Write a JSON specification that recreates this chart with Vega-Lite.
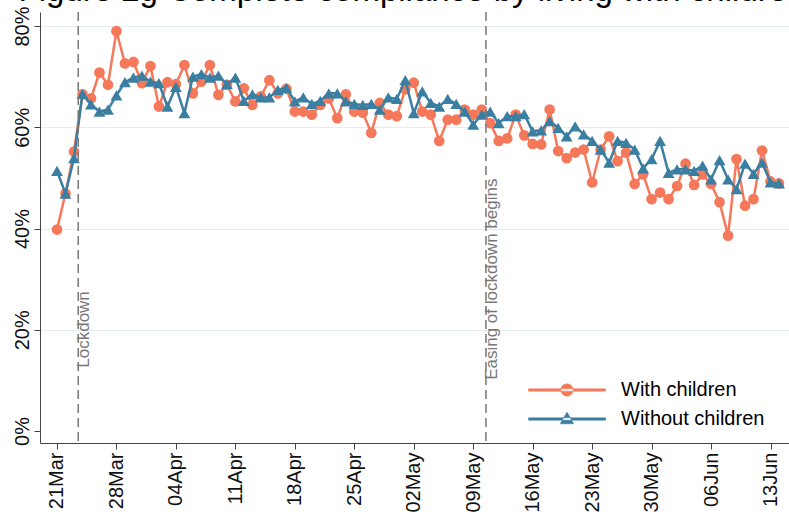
{
  "$schema": "https://vega.github.io/schema/vega-lite/v6.json",
  "width": 756,
  "height": 431,
  "autosize": {"type": "none"},
  "padding": {"left": 40, "top": 12, "right": 0, "bottom": 78},
  "background": "white",
  "title": {
    "text": "Figure 2g Complete compliance by living with children",
    "font": "Liberation Sans",
    "fontSize": 33,
    "fontWeight": "normal",
    "color": "#000000",
    "anchor": "middle",
    "baseline": "alphabetic",
    "offset": -28,
    "dx": -6
  },
  "config": {
    "view": {"stroke": null},
    "font": "Liberation Sans",
    "axis": {
      "labelFont": "Liberation Sans",
      "labelFontSize": 20,
      "labelColor": "#111111",
      "domainColor": "#444444",
      "tickColor": "#444444",
      "tickSize": 6,
      "domainWidth": 1,
      "tickWidth": 1
    }
  },
  "data": {
    "values": [
      {"date": "2020-03-21", "group": "With children", "pct": 39.8},
      {"date": "2020-03-22", "group": "With children", "pct": 46.9},
      {"date": "2020-03-23", "group": "With children", "pct": 55.2},
      {"date": "2020-03-24", "group": "With children", "pct": 66.5},
      {"date": "2020-03-25", "group": "With children", "pct": 65.7},
      {"date": "2020-03-26", "group": "With children", "pct": 70.8},
      {"date": "2020-03-27", "group": "With children", "pct": 68.4},
      {"date": "2020-03-28", "group": "With children", "pct": 79.0},
      {"date": "2020-03-29", "group": "With children", "pct": 72.6},
      {"date": "2020-03-30", "group": "With children", "pct": 72.9},
      {"date": "2020-03-31", "group": "With children", "pct": 68.7},
      {"date": "2020-04-01", "group": "With children", "pct": 72.1},
      {"date": "2020-04-02", "group": "With children", "pct": 64.1},
      {"date": "2020-04-03", "group": "With children", "pct": 68.9},
      {"date": "2020-04-04", "group": "With children", "pct": 68.5},
      {"date": "2020-04-05", "group": "With children", "pct": 72.3},
      {"date": "2020-04-06", "group": "With children", "pct": 66.7},
      {"date": "2020-04-07", "group": "With children", "pct": 69.0},
      {"date": "2020-04-08", "group": "With children", "pct": 72.3},
      {"date": "2020-04-09", "group": "With children", "pct": 66.4},
      {"date": "2020-04-10", "group": "With children", "pct": 68.4},
      {"date": "2020-04-11", "group": "With children", "pct": 65.1},
      {"date": "2020-04-12", "group": "With children", "pct": 67.7},
      {"date": "2020-04-13", "group": "With children", "pct": 64.4},
      {"date": "2020-04-14", "group": "With children", "pct": 66.1},
      {"date": "2020-04-15", "group": "With children", "pct": 69.3},
      {"date": "2020-04-16", "group": "With children", "pct": 66.7},
      {"date": "2020-04-17", "group": "With children", "pct": 67.6},
      {"date": "2020-04-18", "group": "With children", "pct": 63.1},
      {"date": "2020-04-19", "group": "With children", "pct": 63.1},
      {"date": "2020-04-20", "group": "With children", "pct": 62.5},
      {"date": "2020-04-21", "group": "With children", "pct": 64.4},
      {"date": "2020-04-22", "group": "With children", "pct": 65.7},
      {"date": "2020-04-23", "group": "With children", "pct": 61.8},
      {"date": "2020-04-24", "group": "With children", "pct": 66.5},
      {"date": "2020-04-25", "group": "With children", "pct": 63.1},
      {"date": "2020-04-26", "group": "With children", "pct": 62.9},
      {"date": "2020-04-27", "group": "With children", "pct": 58.9},
      {"date": "2020-04-28", "group": "With children", "pct": 64.8},
      {"date": "2020-04-29", "group": "With children", "pct": 62.5},
      {"date": "2020-04-30", "group": "With children", "pct": 62.2},
      {"date": "2020-05-01", "group": "With children", "pct": 67.5},
      {"date": "2020-05-02", "group": "With children", "pct": 68.8},
      {"date": "2020-05-03", "group": "With children", "pct": 63.1},
      {"date": "2020-05-04", "group": "With children", "pct": 62.5},
      {"date": "2020-05-05", "group": "With children", "pct": 57.3},
      {"date": "2020-05-06", "group": "With children", "pct": 61.5},
      {"date": "2020-05-07", "group": "With children", "pct": 61.5},
      {"date": "2020-05-08", "group": "With children", "pct": 63.5},
      {"date": "2020-05-09", "group": "With children", "pct": 62.5},
      {"date": "2020-05-10", "group": "With children", "pct": 63.5},
      {"date": "2020-05-11", "group": "With children", "pct": 60.8},
      {"date": "2020-05-12", "group": "With children", "pct": 57.3},
      {"date": "2020-05-13", "group": "With children", "pct": 57.8},
      {"date": "2020-05-14", "group": "With children", "pct": 62.5},
      {"date": "2020-05-15", "group": "With children", "pct": 58.4},
      {"date": "2020-05-16", "group": "With children", "pct": 56.7},
      {"date": "2020-05-17", "group": "With children", "pct": 56.6},
      {"date": "2020-05-18", "group": "With children", "pct": 63.5},
      {"date": "2020-05-19", "group": "With children", "pct": 55.3},
      {"date": "2020-05-20", "group": "With children", "pct": 53.9},
      {"date": "2020-05-21", "group": "With children", "pct": 55.0},
      {"date": "2020-05-22", "group": "With children", "pct": 55.6},
      {"date": "2020-05-23", "group": "With children", "pct": 49.1},
      {"date": "2020-05-24", "group": "With children", "pct": 55.6},
      {"date": "2020-05-25", "group": "With children", "pct": 58.2},
      {"date": "2020-05-26", "group": "With children", "pct": 53.3},
      {"date": "2020-05-27", "group": "With children", "pct": 55.0},
      {"date": "2020-05-28", "group": "With children", "pct": 48.8},
      {"date": "2020-05-29", "group": "With children", "pct": 50.7},
      {"date": "2020-05-30", "group": "With children", "pct": 45.8},
      {"date": "2020-05-31", "group": "With children", "pct": 47.1},
      {"date": "2020-06-01", "group": "With children", "pct": 45.8},
      {"date": "2020-06-02", "group": "With children", "pct": 48.4},
      {"date": "2020-06-03", "group": "With children", "pct": 52.8},
      {"date": "2020-06-04", "group": "With children", "pct": 48.6},
      {"date": "2020-06-05", "group": "With children", "pct": 50.7},
      {"date": "2020-06-06", "group": "With children", "pct": 48.8},
      {"date": "2020-06-07", "group": "With children", "pct": 45.2},
      {"date": "2020-06-08", "group": "With children", "pct": 38.6},
      {"date": "2020-06-09", "group": "With children", "pct": 53.7},
      {"date": "2020-06-10", "group": "With children", "pct": 44.5},
      {"date": "2020-06-11", "group": "With children", "pct": 45.8},
      {"date": "2020-06-12", "group": "With children", "pct": 55.4},
      {"date": "2020-06-13", "group": "With children", "pct": 49.3},
      {"date": "2020-06-14", "group": "With children", "pct": 48.9},
      {"date": "2020-03-21", "group": "Without children", "pct": 51.4},
      {"date": "2020-03-22", "group": "Without children", "pct": 46.9},
      {"date": "2020-03-23", "group": "Without children", "pct": 53.9},
      {"date": "2020-03-24", "group": "Without children", "pct": 66.6},
      {"date": "2020-03-25", "group": "Without children", "pct": 64.5},
      {"date": "2020-03-26", "group": "Without children", "pct": 63.1},
      {"date": "2020-03-27", "group": "Without children", "pct": 63.5},
      {"date": "2020-03-28", "group": "Without children", "pct": 66.3},
      {"date": "2020-03-29", "group": "Without children", "pct": 68.9},
      {"date": "2020-03-30", "group": "Without children", "pct": 69.8},
      {"date": "2020-03-31", "group": "Without children", "pct": 70.2},
      {"date": "2020-04-01", "group": "Without children", "pct": 69.0},
      {"date": "2020-04-02", "group": "Without children", "pct": 68.7},
      {"date": "2020-04-03", "group": "Without children", "pct": 64.1},
      {"date": "2020-04-04", "group": "Without children", "pct": 68.0},
      {"date": "2020-04-05", "group": "Without children", "pct": 62.8},
      {"date": "2020-04-06", "group": "Without children", "pct": 70.0},
      {"date": "2020-04-07", "group": "Without children", "pct": 70.5},
      {"date": "2020-04-08", "group": "Without children", "pct": 69.8},
      {"date": "2020-04-09", "group": "Without children", "pct": 70.2},
      {"date": "2020-04-10", "group": "Without children", "pct": 68.5},
      {"date": "2020-04-11", "group": "Without children", "pct": 69.8},
      {"date": "2020-04-12", "group": "Without children", "pct": 65.2},
      {"date": "2020-04-13", "group": "Without children", "pct": 66.5},
      {"date": "2020-04-14", "group": "Without children", "pct": 65.9},
      {"date": "2020-04-15", "group": "Without children", "pct": 65.9},
      {"date": "2020-04-16", "group": "Without children", "pct": 67.4},
      {"date": "2020-04-17", "group": "Without children", "pct": 67.8},
      {"date": "2020-04-18", "group": "Without children", "pct": 65.1},
      {"date": "2020-04-19", "group": "Without children", "pct": 65.9},
      {"date": "2020-04-20", "group": "Without children", "pct": 64.6},
      {"date": "2020-04-21", "group": "Without children", "pct": 65.2},
      {"date": "2020-04-22", "group": "Without children", "pct": 66.7},
      {"date": "2020-04-23", "group": "Without children", "pct": 66.7},
      {"date": "2020-04-24", "group": "Without children", "pct": 65.1},
      {"date": "2020-04-25", "group": "Without children", "pct": 64.6},
      {"date": "2020-04-26", "group": "Without children", "pct": 64.4},
      {"date": "2020-04-27", "group": "Without children", "pct": 64.6},
      {"date": "2020-04-28", "group": "Without children", "pct": 63.5},
      {"date": "2020-04-29", "group": "Without children", "pct": 65.9},
      {"date": "2020-04-30", "group": "Without children", "pct": 65.6},
      {"date": "2020-05-01", "group": "Without children", "pct": 69.3},
      {"date": "2020-05-02", "group": "Without children", "pct": 62.8},
      {"date": "2020-05-03", "group": "Without children", "pct": 67.1},
      {"date": "2020-05-04", "group": "Without children", "pct": 64.8},
      {"date": "2020-05-05", "group": "Without children", "pct": 64.1},
      {"date": "2020-05-06", "group": "Without children", "pct": 65.6},
      {"date": "2020-05-07", "group": "Without children", "pct": 64.6},
      {"date": "2020-05-08", "group": "Without children", "pct": 63.1},
      {"date": "2020-05-09", "group": "Without children", "pct": 60.5},
      {"date": "2020-05-10", "group": "Without children", "pct": 62.5},
      {"date": "2020-05-11", "group": "Without children", "pct": 63.1},
      {"date": "2020-05-12", "group": "Without children", "pct": 60.8},
      {"date": "2020-05-13", "group": "Without children", "pct": 62.2},
      {"date": "2020-05-14", "group": "Without children", "pct": 62.2},
      {"date": "2020-05-15", "group": "Without children", "pct": 62.6},
      {"date": "2020-05-16", "group": "Without children", "pct": 59.2},
      {"date": "2020-05-17", "group": "Without children", "pct": 59.4},
      {"date": "2020-05-18", "group": "Without children", "pct": 61.2},
      {"date": "2020-05-19", "group": "Without children", "pct": 59.9},
      {"date": "2020-05-20", "group": "Without children", "pct": 58.2},
      {"date": "2020-05-21", "group": "Without children", "pct": 60.2},
      {"date": "2020-05-22", "group": "Without children", "pct": 58.6},
      {"date": "2020-05-23", "group": "Without children", "pct": 57.3},
      {"date": "2020-05-24", "group": "Without children", "pct": 55.6},
      {"date": "2020-05-25", "group": "Without children", "pct": 53.0},
      {"date": "2020-05-26", "group": "Without children", "pct": 57.3},
      {"date": "2020-05-27", "group": "Without children", "pct": 56.9},
      {"date": "2020-05-28", "group": "Without children", "pct": 55.6},
      {"date": "2020-05-29", "group": "Without children", "pct": 51.9},
      {"date": "2020-05-30", "group": "Without children", "pct": 53.7},
      {"date": "2020-05-31", "group": "Without children", "pct": 57.3},
      {"date": "2020-06-01", "group": "Without children", "pct": 51.0},
      {"date": "2020-06-02", "group": "Without children", "pct": 51.7},
      {"date": "2020-06-03", "group": "Without children", "pct": 51.7},
      {"date": "2020-06-04", "group": "Without children", "pct": 51.4},
      {"date": "2020-06-05", "group": "Without children", "pct": 52.4},
      {"date": "2020-06-06", "group": "Without children", "pct": 49.7},
      {"date": "2020-06-07", "group": "Without children", "pct": 53.5},
      {"date": "2020-06-08", "group": "Without children", "pct": 49.7},
      {"date": "2020-06-09", "group": "Without children", "pct": 47.8},
      {"date": "2020-06-10", "group": "Without children", "pct": 52.8},
      {"date": "2020-06-11", "group": "Without children", "pct": 50.8},
      {"date": "2020-06-12", "group": "Without children", "pct": 53.0},
      {"date": "2020-06-13", "group": "Without children", "pct": 49.1},
      {"date": "2020-06-14", "group": "Without children", "pct": 48.9}
    ]
  },
  "layer": [
    {
      "encoding": {
        "x": {
          "field": "date",
          "type": "temporal",
          "title": null,
          "scale": {
            "type": "utc",
            "domain": [
              {"year": 2020, "month": 3, "date": 19, "utc": true},
              {"year": 2020, "month": 6, "date": 16, "utc": true}
            ]
          },
          "axis": {
            "format": "%d%b",
            "labelAngle": 270,
            "labelAlign": "right",
            "labelBaseline": "middle",
            "labelPadding": 3,
            "grid": false,
            "labelOverlap": false,
            "values": [
              {"year": 2020, "month": 3, "date": 21, "utc": true},
              {"year": 2020, "month": 3, "date": 28, "utc": true},
              {"year": 2020, "month": 4, "date": 4, "utc": true},
              {"year": 2020, "month": 4, "date": 11, "utc": true},
              {"year": 2020, "month": 4, "date": 18, "utc": true},
              {"year": 2020, "month": 4, "date": 25, "utc": true},
              {"year": 2020, "month": 5, "date": 2, "utc": true},
              {"year": 2020, "month": 5, "date": 9, "utc": true},
              {"year": 2020, "month": 5, "date": 16, "utc": true},
              {"year": 2020, "month": 5, "date": 23, "utc": true},
              {"year": 2020, "month": 5, "date": 30, "utc": true},
              {"year": 2020, "month": 6, "date": 6, "utc": true},
              {"year": 2020, "month": 6, "date": 13, "utc": true}
            ]
          }
        },
        "y": {
          "field": "pct",
          "type": "quantitative",
          "title": null,
          "scale": {"domain": [-2.37, 82.77], "nice": false, "zero": false},
          "axis": {
            "values": [0, 20, 40, 60, 80],
            "labelExpr": "datum.value + '%'",
            "labelAngle": 270,
            "labelAlign": "center",
            "labelBaseline": "bottom",
            "labelPadding": 2,
            "grid": true,
            "gridColor": "#e6eef1",
            "gridWidth": 1.2,
            "gridOpacity": {"condition": {"test": "datum.value === 0", "value": 0}, "value": 1}
          }
        },
        "color": {
          "field": "group",
          "type": "nominal",
          "scale": {
            "domain": ["With children", "Without children"],
            "range": ["#F5785A", "#3A7EA1"]
          },
          "legend": {
            "title": null,
            "orient": "none",
            "legendX": 488,
            "legendY": 366,
            "symbolSize": 5929,
            "symbolStrokeWidth": 0.5,
            "clipHeight": 24,
            "labelFont": "Liberation Sans",
            "labelFontSize": 20,
            "labelColor": "#000000",
            "labelOffset": 15,
            "rowPadding": 5,
            "encode": {
              "symbols": {
                "update": {
                  "shape": {"signal": "datum.value === 'With children' ? 'M-1,-0.032L1,-0.032L1,0.032L-1,0.032Z M-0.16,0A0.16,0.16 0 1,0 0.16,0A0.16,0.16 0 1,0 -0.16,0Z' : 'M-1,-0.032L1,-0.032L1,0.032L-1,0.032Z M-0.175,0.125L0.175,0.125L0,-0.18Z'"},
                  "fill": {"signal": "datum.value === 'With children' ? '#F5785A' : '#3A7EA1'"},
                  "stroke": {"signal": "datum.value === 'With children' ? '#F5785A' : '#3A7EA1'"},
                  "fillOpacity": {"value": 1},
                  "strokeOpacity": {"value": 1}
                }
              }
            }
          }
        }
      },
      "layer": [
        {
          "transform": [{"filter": "datum.group === 'With children'"}],
          "mark": {"type": "line", "strokeWidth": 2.5}
        },
        {
          "transform": [{"filter": "datum.group === 'With children'"}],
          "mark": {"type": "point", "shape": "circle", "filled": true, "size": 115, "opacity": 1}
        },
        {
          "transform": [{"filter": "datum.group === 'Without children'"}],
          "mark": {"type": "line", "strokeWidth": 2.5}
        },
        {
          "transform": [{"filter": "datum.group === 'Without children'"}],
          "mark": {"type": "point", "shape": "triangle-up", "filled": true, "size": 140, "opacity": 1}
        }
      ]
    },
    {
      "data": {"values": [{"label": "Lockdown", "when": "2020-03-23T12:00:00Z", "level": 12.5}, {"label": "Easing of lockdown begins", "when": "2020-05-10T12:00:00Z", "level": 10.1}]},
      "encoding": {
        "x": {"field": "when", "type": "temporal"}
      },
      "layer": [
        {
          "mark": {"type": "rule", "color": "#777777", "strokeWidth": 1.5, "strokeDash": [9, 5]},
          "encoding": {}
        },
        {
          "mark": {"type": "text", "angle": 270, "align": "left", "baseline": "alphabetic", "dy": 11, "fontSize": 17, "fill": "#777777"},
          "encoding": {
            "y": {"field": "level", "type": "quantitative"},
            "text": {"field": "label", "type": "nominal"}
          }
        }
      ]
    }
  ]
}
